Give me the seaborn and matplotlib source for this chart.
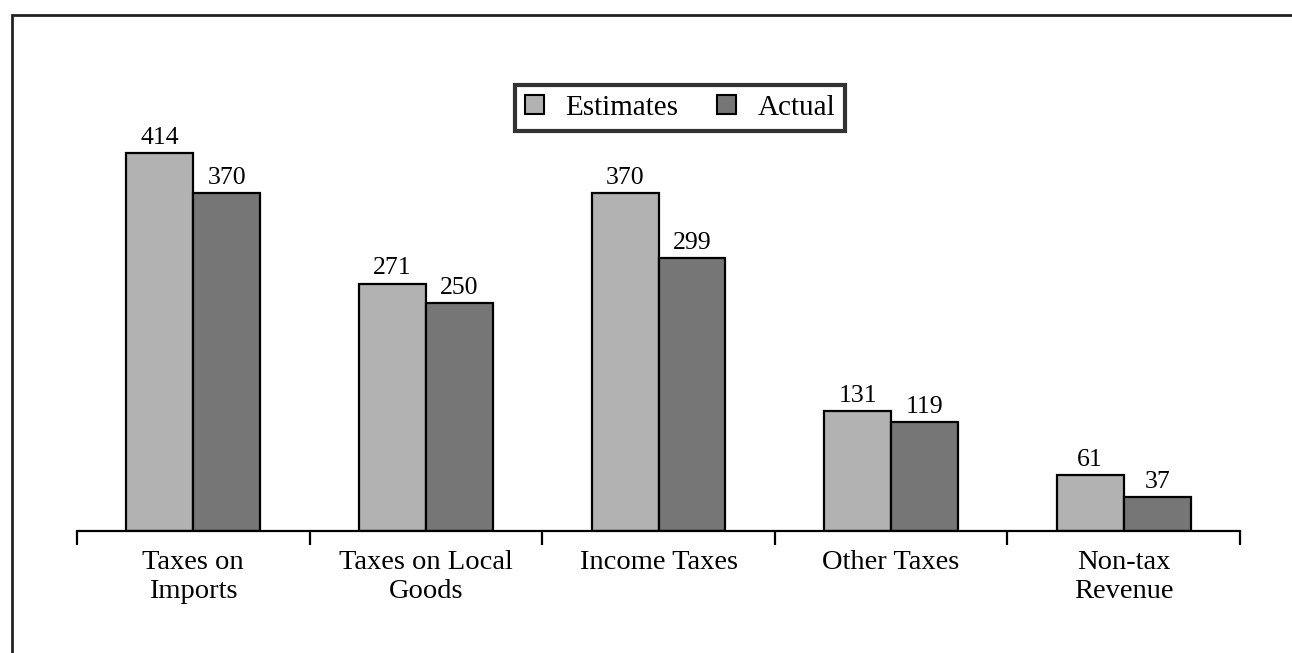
import matplotlib
matplotlib.use("Agg")
import matplotlib.pyplot as plt
import seaborn as sns
import pandas as pd
from matplotlib.patches import Rectangle

categories = ["Taxes on\nImports", "Taxes on Local\nGoods", "Income Taxes", "Other Taxes", "Non-tax\nRevenue"]
estimates = [414, 271, 370, 131, 61]
actual = [370, 250, 299, 119, 37]
series = ["Estimates", "Actual"]
colors = ["#b2b2b2", "#767676"]

df = pd.DataFrame({
    "Category": categories * 2,
    "Series": [series[0]] * len(categories) + [series[1]] * len(categories),
    "Value": estimates + actual,
})

sns.set_theme(style="white")
plt.rcParams["font.family"] = ["Liberation Serif", "DejaVu Serif"]
plt.rcParams["text.color"] = "black"

W, H = 1292, 653
fig = plt.figure(figsize=(W / 100, H / 100), dpi=100)
ymax = 500
ppu = 0.913
top_px = 531 - ymax * ppu
ax = fig.add_axes([77 / W, 1 - 531 / H, (1240 - 77) / W, (531 - top_px) / H])

sns.barplot(data=df, x="Category", y="Value", hue="Series", palette=colors,
            width=0.576, gap=0, edgecolor="black", linewidth=1.6, ax=ax,
            saturation=1, legend=True)

for c in ax.containers:
    ax.bar_label(c, fmt="%d", padding=3, fontsize=18.5, color="black")

ax.set_xlim(-0.5, 4.5)
ax.set_ylim(0, ymax)
ax.set_xlabel("")
ax.set_ylabel("")
for s in ["top", "right", "left"]:
    ax.spines[s].set_visible(False)
ax.spines["bottom"].set_linewidth(1.6)
ax.spines["bottom"].set_color("black")
ax.set_yticks([])
ax.set_xticks([i - 0.5 for i in range(len(categories) + 1)])
ax.set_xticklabels([])
ax.set_xticks(range(len(categories)), minor=True)
ax.set_xticklabels(categories, minor=True, fontsize=20.5, linespacing=1.17, color="black")
ax.tick_params(axis="x", which="major", direction="out", length=10, width=1.6, color="black", bottom=True)
ax.tick_params(axis="x", which="minor", length=0, pad=14, colors="black")

handles, labels = ax.get_legend_handles_labels()
if ax.get_legend() is not None:
    ax.get_legend().remove()
leg = fig.legend(handles, labels, loc="center", bbox_to_anchor=(680 / W, 1 - 108 / H),
                 ncol=2, frameon=True, fancybox=False, fontsize=21,
                 handlelength=0.65, handleheight=0.65, handletextpad=0.75,
                 columnspacing=1.3, borderpad=0.35, borderaxespad=0, edgecolor="black")
leg.get_frame().set_linewidth(3)
for t in leg.get_texts():
    t.set_color("black")
for h in leg.legend_handles:
    h.set_edgecolor("black")
    h.set_linewidth(1.5)

fig.patches.append(Rectangle((11.5 / W, -0.5), 1.5, 0.5 + (1 - 15 / H), transform=fig.transFigure,
                             fill=False, edgecolor="#222222", linewidth=2, clip_on=False))

fig.savefig("out.png", dpi=100)
